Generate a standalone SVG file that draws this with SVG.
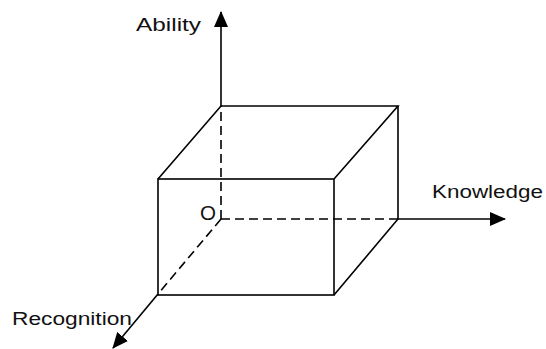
<svg xmlns="http://www.w3.org/2000/svg" width="546" height="349" viewBox="0 0 546 349">
<style>
.s{stroke:#000;stroke-width:1.6;fill:none}
.d{stroke:#000;stroke-width:1.6;fill:none;stroke-dasharray:9 5}
.t{font-family:"Liberation Sans",Arial,sans-serif;font-size:18px;fill:#111}
</style>
<defs>
<marker id="ah2" markerWidth="16" markerHeight="14" refX="15" refY="7" orient="auto" markerUnits="userSpaceOnUse" viewBox="0 0 16 14">
<path d="M0,0 L16,7 L0,14 Z" fill="#000"/>
</marker>
</defs>
<rect width="546" height="349" fill="#fff"/>
<g id="connectors">
<line class="d" x1="221" y1="219" x2="221" y2="106"/>
<line class="s" x1="221" y1="106" x2="221" y2="12" marker-end="url(#ah2)"/>
<line class="d" x1="221" y1="219" x2="398" y2="219"/>
<line class="s" x1="398" y1="219" x2="505" y2="219" marker-end="url(#ah2)"/>
<line class="d" x1="221" y1="219" x2="158" y2="294"/>
<line class="s" x1="158" y1="294" x2="113" y2="348" marker-end="url(#ah2)"/>
</g>
<g id="box">
<rect class="s" x="158" y="179" width="176" height="116"/>
<polyline class="s" points="158,179 221,106 398,106 334,179"/>
<polyline class="s" points="398,106 398,219 334,295"/>
</g>
<g id="label-ability"><text class="t" x="136" y="31" textLength="65" lengthAdjust="spacingAndGlyphs">Ability</text></g>
<g id="label-knowledge"><text class="t" x="432" y="198" textLength="111" lengthAdjust="spacingAndGlyphs">Knowledge</text></g>
<g id="label-recognition"><text class="t" x="12" y="325" textLength="120" lengthAdjust="spacingAndGlyphs">Recognition</text></g>
<g id="label-origin"><text class="t" x="200" y="220" style="font-size:20px" textLength="16" lengthAdjust="spacingAndGlyphs">O</text></g>
</svg>
